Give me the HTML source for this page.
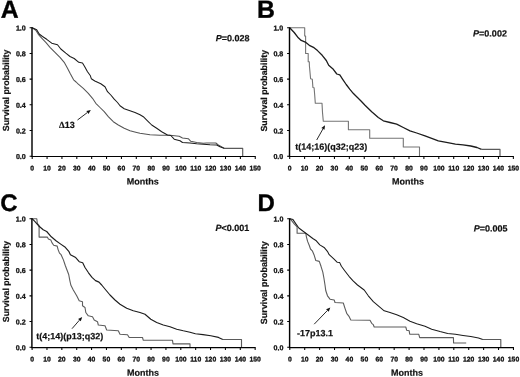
<!DOCTYPE html>
<html lang="en">
<head>
<meta charset="utf-8">
<title>Survival probability</title>
<style>
html,body{margin:0;padding:0;background:#fff;}
body{width:520px;height:377px;overflow:hidden;}
svg{display:block;text-rendering:geometricPrecision;}
text{font-family:"Liberation Sans", Arial, Helvetica, sans-serif;font-weight:bold;fill:#111;}
.pl{fill:#000;stroke:#000;stroke-width:0.35;}
.tk{font-size:6.8px;text-anchor:middle;stroke:#111;stroke-width:0.3px;}
.ty{font-size:7.1px;text-anchor:end;stroke:#111;stroke-width:0.3px;}
.lb{font-size:9px;stroke:#111;stroke-width:0.2px;}
.ax{stroke:#000;fill:none;}
.dk{stroke:#1c1c1c;fill:none;stroke-linejoin:round;}
.gy{fill:none;stroke-linejoin:round;}
.ar{stroke:#111;stroke-width:0.9;fill:none;}
</style>
</head>
<body>
<svg width="520" height="377" viewBox="0 0 520 377">
<rect width="520" height="377" fill="#fff"/>
<g style="opacity:0.999">
<g>
<text class="pl" x="0.8" y="17.7" transform="rotate(0.03 0.8 17.7)" font-size="24.8">A</text>
<polyline class="gy" stroke="#555555" stroke-width="1.05" points="32.2,27.7 35.8,30.3 38.3,34.3 41.7,38.2 45.8,42.3 50.0,47.3 55.0,52.3 60.0,57.3 64.2,62.3 67.5,68.2 70.2,73.5 73.6,79.8 76.1,82.0 78.3,84.2 83.3,88.3 88.3,93.3 92.5,98.3 95.8,103.3 100.0,107.5 104.2,111.7 108.3,116.7 113.3,121.7 118.3,125.0 124.2,128.3 130.0,130.8 136.7,132.5 140.0,133.3 150.0,134.7 160.0,135.3 170.0,135.3 179.2,136.3 182.5,138.0 188.3,138.7 190.8,141.3 196.7,142.5 203.3,143.3 206.7,143.0 215.8,143.0 218.3,145.0 224.5,148.4"/>
<polyline class="gy" stroke="#5a5a5a" stroke-width="1.15" points="224.5,148.4 242.7,148.4 242.7,156.3"/>
<polyline class="dk" stroke-width="1.05" points="32.2,27.7 36.7,29.8 39.2,34.0 42.5,36.5 46.7,39.3 51.7,43.2 57.5,44.8 60.8,49.0 65.8,53.2 70.0,56.5 74.2,58.5 78.8,62.3 82.5,62.9 84.6,66.4 87.5,71.7 90.4,75.8 91.3,78.7 94.8,81.0 100.8,83.7 105.0,86.7 107.5,91.7 110.8,95.0 114.2,99.2 117.5,102.5 120.0,105.8 124.2,108.7 130.0,110.8 135.0,112.5 140.0,114.8 143.3,116.7 147.5,120.8 151.7,125.0 156.7,128.3 161.7,131.7 167.5,135.0 170.8,135.5 174.2,139.2 180.0,140.8 182.5,142.5 190.0,143.0 196.7,143.7 203.3,144.2 210.0,144.7 216.7,145.0 220.0,146.7 224.5,148.4"/>
<path class="ax" stroke-width="1.45" d="M32.00,27.30V157.00"/>
<path class="ax" stroke-width="1.05" d="M31.30,156.50H255.75"/>
<path class="ax" stroke-width="1.05" d="M32.20,156.50v2.4M47.07,156.50v2.4M61.94,156.50v2.4M76.81,156.50v2.4M91.68,156.50v2.4M106.55,156.50v2.4M121.42,156.50v2.4M136.29,156.50v2.4M151.16,156.50v2.4M166.03,156.50v2.4M180.90,156.50v2.4M195.77,156.50v2.4M210.64,156.50v2.4M225.51,156.50v2.4M240.38,156.50v2.4M255.25,156.50v2.4M32.20,156.20h-2.6M32.20,130.50h-2.6M32.20,104.80h-2.6M32.20,79.10h-2.6M32.20,53.40h-2.6M32.20,27.70h-2.6"/>
<text class="tk" x="32.2" y="170.5" transform="rotate(0.03 32.2 170.5)">0</text><text class="tk" x="47.1" y="170.5" transform="rotate(0.03 47.1 170.5)">10</text><text class="tk" x="61.9" y="170.5" transform="rotate(0.03 61.9 170.5)">20</text><text class="tk" x="76.8" y="170.5" transform="rotate(0.03 76.8 170.5)">30</text><text class="tk" x="91.7" y="170.5" transform="rotate(0.03 91.7 170.5)">40</text><text class="tk" x="106.5" y="170.5" transform="rotate(0.03 106.5 170.5)">50</text><text class="tk" x="121.4" y="170.5" transform="rotate(0.03 121.4 170.5)">60</text><text class="tk" x="136.3" y="170.5" transform="rotate(0.03 136.3 170.5)">70</text><text class="tk" x="151.2" y="170.5" transform="rotate(0.03 151.2 170.5)">80</text><text class="tk" x="166.0" y="170.5" transform="rotate(0.03 166.0 170.5)">90</text><text class="tk" x="180.9" y="170.5" transform="rotate(0.03 180.9 170.5)">100</text><text class="tk" x="195.8" y="170.5" transform="rotate(0.03 195.8 170.5)">110</text><text class="tk" x="210.6" y="170.5" transform="rotate(0.03 210.6 170.5)">120</text><text class="tk" x="225.5" y="170.5" transform="rotate(0.03 225.5 170.5)">130</text><text class="tk" x="240.4" y="170.5" transform="rotate(0.03 240.4 170.5)">140</text><text class="tk" x="255.2" y="170.5" transform="rotate(0.03 255.2 170.5)">150</text>
<text class="ty" x="25.8" y="159.1" transform="rotate(0.03 25.8 159.1)">0.0</text><text class="ty" x="25.8" y="133.4" transform="rotate(0.03 25.8 133.4)">0.2</text><text class="ty" x="25.8" y="107.7" transform="rotate(0.03 25.8 107.7)">0.4</text><text class="ty" x="25.8" y="82.0" transform="rotate(0.03 25.8 82.0)">0.6</text><text class="ty" x="25.8" y="56.3" transform="rotate(0.03 25.8 56.3)">0.8</text><text class="ty" x="25.8" y="30.6" transform="rotate(0.03 25.8 30.6)">1.0</text>
<text class="lb" x="142.8" y="184.6" transform="rotate(0.03 142.8 184.6)" text-anchor="middle">Months</text>
<text class="lb" style="font-size:8.8px" transform="translate(8.6,131.2) rotate(-90)">Survival probability</text>
<text class="lb" x="215.8" y="41.2" transform="rotate(0.03 215.8 41.2)"><tspan font-style="italic">P</tspan>=0.028</text>
<text class="lb" x="59.0" y="128.0" transform="rotate(0.03 59.0 128.0)"><tspan font-family="Liberation Serif, serif" font-size="9.2">Δ</tspan>13</text>
<line class="ar" x1="77.5" y1="120" x2="87.4" y2="112.5"/><polygon fill="#111" points="90.8,110.0 88.5,114.0 86.4,111.1"/>
</g>
<g>
<text class="pl" x="257.0" y="17.8" transform="rotate(0.03 257.0 17.8)" font-size="24.8">B</text>
<polyline class="gy" stroke="#747474" stroke-width="1.1" points="289.7,27.7 304.7,27.7 304.7,36.0 305.6,36.0 305.6,53.5 308.2,53.5 308.2,61.7 309.3,61.7 309.4,65.8 310.6,78.7 312.3,79.3 312.9,87.4 314.1,87.8 314.7,95.0 315.3,103.3 322.0,103.3 322.5,112.5 323.3,121.2 348.4,121.2 348.4,129.8 369.7,129.8 369.7,138.2 403.3,138.2 403.3,147.0 419.5,147.0 419.5,156.3"/>
<polyline class="gy" stroke="#5a5a5a" stroke-width="1.15" points="481.5,149.4 500.0,149.4 500.0,156.2"/>
<polyline class="dk" stroke-width="1.3" points="289.7,27.7 294.2,32.5 298.3,37.8 301.2,40.4 305.3,42.1 309.3,45.3 314.0,47.7 317.5,50.6 322.2,55.3 326.3,60.5 328.7,65.3 333.3,69.3 336.8,74.0 339.8,74.9 342.7,79.3 346.2,84.5 349.7,89.2 353.2,93.3 356.7,96.7 361.0,101.0 365.0,105.2 371.7,111.7 378.3,117.5 383.3,120.8 390.0,122.5 396.7,124.2 403.3,127.5 410.0,130.8 416.7,133.0 425.0,135.8 431.7,138.3 438.3,140.8 447.7,142.6 455.4,144.2 463.0,144.8 470.8,146.0 477.0,147.5 481.5,149.4"/>
<path class="ax" stroke-width="1.45" d="M289.50,27.30V157.00"/>
<path class="ax" stroke-width="1.05" d="M288.80,156.50H513.85"/>
<path class="ax" stroke-width="1.05" d="M289.70,156.50v2.4M304.61,156.50v2.4M319.52,156.50v2.4M334.43,156.50v2.4M349.34,156.50v2.4M364.25,156.50v2.4M379.16,156.50v2.4M394.07,156.50v2.4M408.98,156.50v2.4M423.89,156.50v2.4M438.80,156.50v2.4M453.71,156.50v2.4M468.62,156.50v2.4M483.53,156.50v2.4M498.44,156.50v2.4M513.35,156.50v2.4M289.70,156.20h-2.6M289.70,130.50h-2.6M289.70,104.80h-2.6M289.70,79.10h-2.6M289.70,53.40h-2.6M289.70,27.70h-2.6"/>
<text class="tk" x="289.7" y="170.5" transform="rotate(0.03 289.7 170.5)">0</text><text class="tk" x="304.6" y="170.5" transform="rotate(0.03 304.6 170.5)">10</text><text class="tk" x="319.5" y="170.5" transform="rotate(0.03 319.5 170.5)">20</text><text class="tk" x="334.4" y="170.5" transform="rotate(0.03 334.4 170.5)">30</text><text class="tk" x="349.3" y="170.5" transform="rotate(0.03 349.3 170.5)">40</text><text class="tk" x="364.2" y="170.5" transform="rotate(0.03 364.2 170.5)">50</text><text class="tk" x="379.2" y="170.5" transform="rotate(0.03 379.2 170.5)">60</text><text class="tk" x="394.1" y="170.5" transform="rotate(0.03 394.1 170.5)">70</text><text class="tk" x="409.0" y="170.5" transform="rotate(0.03 409.0 170.5)">80</text><text class="tk" x="423.9" y="170.5" transform="rotate(0.03 423.9 170.5)">90</text><text class="tk" x="438.8" y="170.5" transform="rotate(0.03 438.8 170.5)">100</text><text class="tk" x="453.7" y="170.5" transform="rotate(0.03 453.7 170.5)">110</text><text class="tk" x="468.6" y="170.5" transform="rotate(0.03 468.6 170.5)">120</text><text class="tk" x="483.5" y="170.5" transform="rotate(0.03 483.5 170.5)">130</text><text class="tk" x="498.4" y="170.5" transform="rotate(0.03 498.4 170.5)">140</text><text class="tk" x="513.4" y="170.5" transform="rotate(0.03 513.4 170.5)">150</text>
<text class="ty" x="283.3" y="159.1" transform="rotate(0.03 283.3 159.1)">0.0</text><text class="ty" x="283.3" y="133.4" transform="rotate(0.03 283.3 133.4)">0.2</text><text class="ty" x="283.3" y="107.7" transform="rotate(0.03 283.3 107.7)">0.4</text><text class="ty" x="283.3" y="82.0" transform="rotate(0.03 283.3 82.0)">0.6</text><text class="ty" x="283.3" y="56.3" transform="rotate(0.03 283.3 56.3)">0.8</text><text class="ty" x="283.3" y="30.6" transform="rotate(0.03 283.3 30.6)">1.0</text>
<text class="lb" x="408.1" y="184.6" transform="rotate(0.03 408.1 184.6)" text-anchor="middle">Months</text>
<text class="lb" style="font-size:8.8px" transform="translate(266.9,131.5) rotate(-90)">Survival probability</text>
<text class="lb" x="473.1" y="36.6" transform="rotate(0.03 473.1 36.6)"><tspan font-style="italic">P</tspan>=0.002</text>
<text class="lb" x="295.3" y="149.7" transform="rotate(0.03 295.3 149.7)">t(14;16)(q32;q23)</text>
<line class="ar" x1="316.7" y1="140" x2="322.9" y2="129.0"/><polygon fill="#111" points="325.0,125.3 324.5,129.8 321.4,128.1"/>
</g>
<g>
<text class="pl" x="0.2" y="210.9" transform="rotate(0.03 0.2 210.9)" font-size="24">C</text>
<polyline class="gy" stroke="#5c5c5c" stroke-width="1.1" points="32.1,218.7 36.8,218.7 37.3,223.3 39.1,225.5 39.1,237.1 47.3,237.1 48.4,239.1 50.8,239.9 51.9,242.6 53.7,245.3 57.2,246.1 58.1,249.6 59.5,253.1 61.1,254.7 63.4,259.9 65.2,265.2 66.9,269.8 68.7,274.5 69.8,280.3 70.8,285.0 73.3,290.0 76.7,295.8 79.2,300.8 82.5,301.7 82.5,305.8 85.0,307.5 85.8,312.5 88.3,315.8 92.5,316.7 94.2,320.0 97.5,321.7 98.3,325.0 105.0,325.8 106.7,330.0 118.3,330.8 120.0,334.2 127.5,334.7 129.2,337.5 142.5,337.5 143.3,340.3 172.5,340.3 173.0,343.9 190.0,343.9 190.0,347.2"/>
<polyline class="gy" stroke="#5a5a5a" stroke-width="1.15" points="222.8,339.5 241.5,339.5 241.5,347.2"/>
<polyline class="dk" stroke-width="1.15" points="32.1,218.7 35.0,221.6 38.5,225.7 43.2,229.8 46.7,231.5 51.3,236.8 56.0,240.8 60.7,244.1 65.3,247.3 68.8,251.3 70.4,254.7 75.7,257.6 79.2,261.7 82.7,262.8 85.0,267.5 88.5,272.8 92.0,277.4 95.5,280.6 99.0,282.1 101.7,285.0 105.8,290.0 110.0,295.0 115.0,300.0 120.0,304.2 126.7,308.3 133.3,310.8 140.0,312.5 145.0,314.2 150.8,319.2 156.7,322.5 163.3,325.0 170.0,326.7 176.7,329.2 183.3,330.8 190.0,332.2 195.4,333.8 203.0,334.6 210.8,335.8 218.5,337.4 222.8,339.5"/>
<path class="ax" stroke-width="1.45" d="M31.90,218.30V348.10"/>
<path class="ax" stroke-width="1.05" d="M31.20,347.60H255.65"/>
<path class="ax" stroke-width="1.05" d="M32.10,347.60v2.4M46.97,347.60v2.4M61.84,347.60v2.4M76.71,347.60v2.4M91.58,347.60v2.4M106.45,347.60v2.4M121.32,347.60v2.4M136.19,347.60v2.4M151.06,347.60v2.4M165.93,347.60v2.4M180.80,347.60v2.4M195.67,347.60v2.4M210.54,347.60v2.4M225.41,347.60v2.4M240.28,347.60v2.4M255.15,347.60v2.4M32.10,347.30h-2.6M32.10,321.58h-2.6M32.10,295.86h-2.6M32.10,270.14h-2.6M32.10,244.42h-2.6M32.10,218.70h-2.6"/>
<text class="tk" x="32.1" y="361.6" transform="rotate(0.03 32.1 361.6)">0</text><text class="tk" x="47.0" y="361.6" transform="rotate(0.03 47.0 361.6)">10</text><text class="tk" x="61.8" y="361.6" transform="rotate(0.03 61.8 361.6)">20</text><text class="tk" x="76.7" y="361.6" transform="rotate(0.03 76.7 361.6)">30</text><text class="tk" x="91.6" y="361.6" transform="rotate(0.03 91.6 361.6)">40</text><text class="tk" x="106.4" y="361.6" transform="rotate(0.03 106.4 361.6)">50</text><text class="tk" x="121.3" y="361.6" transform="rotate(0.03 121.3 361.6)">60</text><text class="tk" x="136.2" y="361.6" transform="rotate(0.03 136.2 361.6)">70</text><text class="tk" x="151.1" y="361.6" transform="rotate(0.03 151.1 361.6)">80</text><text class="tk" x="165.9" y="361.6" transform="rotate(0.03 165.9 361.6)">90</text><text class="tk" x="180.8" y="361.6" transform="rotate(0.03 180.8 361.6)">100</text><text class="tk" x="195.7" y="361.6" transform="rotate(0.03 195.7 361.6)">110</text><text class="tk" x="210.5" y="361.6" transform="rotate(0.03 210.5 361.6)">120</text><text class="tk" x="225.4" y="361.6" transform="rotate(0.03 225.4 361.6)">130</text><text class="tk" x="240.3" y="361.6" transform="rotate(0.03 240.3 361.6)">140</text><text class="tk" x="255.1" y="361.6" transform="rotate(0.03 255.1 361.6)">150</text>
<text class="ty" x="25.7" y="350.2" transform="rotate(0.03 25.7 350.2)">0.0</text><text class="ty" x="25.7" y="324.5" transform="rotate(0.03 25.7 324.5)">0.2</text><text class="ty" x="25.7" y="298.8" transform="rotate(0.03 25.7 298.8)">0.4</text><text class="ty" x="25.7" y="273.0" transform="rotate(0.03 25.7 273.0)">0.6</text><text class="ty" x="25.7" y="247.3" transform="rotate(0.03 25.7 247.3)">0.8</text><text class="ty" x="25.7" y="221.6" transform="rotate(0.03 25.7 221.6)">1.0</text>
<text class="lb" x="142.9" y="375.7" transform="rotate(0.03 142.9 375.7)" text-anchor="middle">Months</text>
<text class="lb" style="font-size:8.75px" transform="translate(8.5,322.2) rotate(-90)">Survival probability</text>
<text class="lb" x="215.4" y="231.1" transform="rotate(0.03 215.4 231.1)"><tspan font-style="italic">P</tspan>&lt;0.001</text>
<text class="lb" x="36.2" y="339.2" transform="rotate(0.03 36.2 339.2)">t(4;14)(p13;q32)</text>
<line class="ar" x1="72" y1="328.7" x2="79.4" y2="320.2"/><polygon fill="#111" points="82.2,317.0 80.8,321.3 78.1,319.0"/>
</g>
<g>
<text class="pl" x="257.6" y="210.9" transform="rotate(0.03 257.6 210.9)" font-size="24">D</text>
<polyline class="gy" stroke="#5c5c5c" stroke-width="1.1" points="290.1,218.7 294.2,223.9 297.1,226.8 297.1,233.3 305.8,233.3 306.4,236.8 307.6,241.4 309.3,245.5 310.5,249.0 312.3,250.8 314.0,254.7 315.8,260.5 319.3,261.4 321.0,266.3 322.8,272.2 323.9,278.0 325.0,285.0 325.8,290.8 327.5,295.8 330.0,299.2 334.2,300.0 335.0,302.5 343.3,303.0 345.0,308.3 346.7,313.3 349.2,316.7 350.8,320.0 370.0,320.3 371.7,323.3 373.3,324.7 374.2,327.0 405.8,327.0 406.7,330.3 409.2,330.8 409.7,334.2 418.7,334.2 419.7,337.6 453.4,337.6 453.6,343.0 466.2,343.0"/>
<polyline class="gy" stroke="#5a5a5a" stroke-width="1.15" points="482.8,339.5 500.8,339.5 500.8,347.2"/>
<polyline class="dk" stroke-width="1.05" points="290.1,218.7 293.0,219.6 295.9,223.9 298.8,228.0 303.5,231.5 308.2,235.0 312.8,238.5 316.3,240.8 319.8,244.9 324.5,247.8 327.4,251.3 329.2,254.7 333.8,258.8 337.3,262.3 339.7,262.6 341.4,266.3 344.9,271.0 349.0,276.3 353.1,280.9 357.5,285.0 364.2,290.0 368.3,295.8 373.3,301.7 379.2,306.7 384.2,310.8 390.0,312.5 396.7,314.7 403.3,317.5 410.0,321.3 416.7,323.7 425.0,326.3 431.7,329.2 440.0,331.5 447.7,333.4 455.4,334.3 463.0,335.4 470.8,336.5 478.5,338.0 482.8,339.5"/>
<path class="ax" stroke-width="1.45" d="M289.60,218.30V348.10"/>
<path class="ax" stroke-width="1.05" d="M288.90,347.60H513.95"/>
<path class="ax" stroke-width="1.05" d="M289.80,347.60v2.4M304.71,347.60v2.4M319.62,347.60v2.4M334.53,347.60v2.4M349.44,347.60v2.4M364.35,347.60v2.4M379.26,347.60v2.4M394.17,347.60v2.4M409.08,347.60v2.4M423.99,347.60v2.4M438.90,347.60v2.4M453.81,347.60v2.4M468.72,347.60v2.4M483.63,347.60v2.4M498.54,347.60v2.4M513.45,347.60v2.4M289.80,347.30h-2.6M289.80,321.58h-2.6M289.80,295.86h-2.6M289.80,270.14h-2.6M289.80,244.42h-2.6M289.80,218.70h-2.6"/>
<text class="tk" x="289.8" y="361.6" transform="rotate(0.03 289.8 361.6)">0</text><text class="tk" x="304.7" y="361.6" transform="rotate(0.03 304.7 361.6)">10</text><text class="tk" x="319.6" y="361.6" transform="rotate(0.03 319.6 361.6)">20</text><text class="tk" x="334.5" y="361.6" transform="rotate(0.03 334.5 361.6)">30</text><text class="tk" x="349.4" y="361.6" transform="rotate(0.03 349.4 361.6)">40</text><text class="tk" x="364.4" y="361.6" transform="rotate(0.03 364.4 361.6)">50</text><text class="tk" x="379.3" y="361.6" transform="rotate(0.03 379.3 361.6)">60</text><text class="tk" x="394.2" y="361.6" transform="rotate(0.03 394.2 361.6)">70</text><text class="tk" x="409.1" y="361.6" transform="rotate(0.03 409.1 361.6)">80</text><text class="tk" x="424.0" y="361.6" transform="rotate(0.03 424.0 361.6)">90</text><text class="tk" x="438.9" y="361.6" transform="rotate(0.03 438.9 361.6)">100</text><text class="tk" x="453.8" y="361.6" transform="rotate(0.03 453.8 361.6)">110</text><text class="tk" x="468.7" y="361.6" transform="rotate(0.03 468.7 361.6)">120</text><text class="tk" x="483.6" y="361.6" transform="rotate(0.03 483.6 361.6)">130</text><text class="tk" x="498.5" y="361.6" transform="rotate(0.03 498.5 361.6)">140</text><text class="tk" x="513.5" y="361.6" transform="rotate(0.03 513.5 361.6)">150</text>
<text class="ty" x="283.4" y="350.2" transform="rotate(0.03 283.4 350.2)">0.0</text><text class="ty" x="283.4" y="324.5" transform="rotate(0.03 283.4 324.5)">0.2</text><text class="ty" x="283.4" y="298.8" transform="rotate(0.03 283.4 298.8)">0.4</text><text class="ty" x="283.4" y="273.0" transform="rotate(0.03 283.4 273.0)">0.6</text><text class="ty" x="283.4" y="247.3" transform="rotate(0.03 283.4 247.3)">0.8</text><text class="ty" x="283.4" y="221.6" transform="rotate(0.03 283.4 221.6)">1.0</text>
<text class="lb" x="407.0" y="375.7" transform="rotate(0.03 407.0 375.7)" text-anchor="middle">Months</text>
<text class="lb" style="font-size:8.95px" transform="translate(267.0,324.2) rotate(-90)">Survival probability</text>
<text class="lb" x="473.8" y="231.4" transform="rotate(0.03 473.8 231.4)"><tspan font-style="italic">P</tspan>=0.005</text>
<text class="lb" x="297.0" y="336.3" transform="rotate(0.03 297.0 336.3)">-17p13.1</text>
<line class="ar" x1="314.2" y1="324.2" x2="327.4" y2="310.5"/><polygon fill="#111" points="330.3,307.5 328.7,311.8 326.1,309.3"/>
</g>
</g>
</svg>
</body>
</html>
